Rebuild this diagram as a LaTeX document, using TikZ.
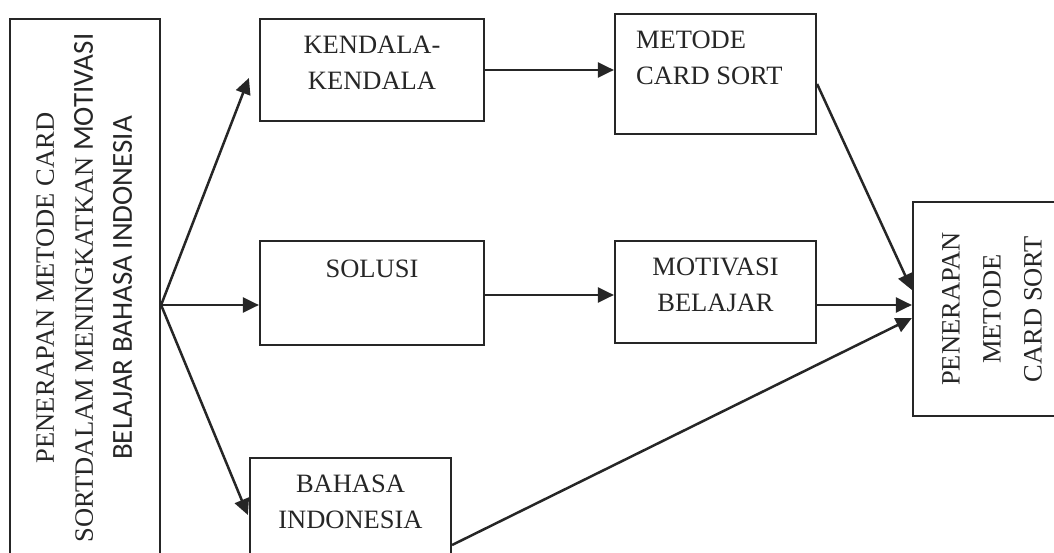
\documentclass[tikz,border=0pt]{standalone}
\usepackage{fontspec}
\setmainfont{Liberation Serif}
\newfontfamily\sansfont{Carlito}
\usetikzlibrary{positioning,arrows.meta}
\definecolor{ink}{HTML}{262626}
\newcommand{\sanscap}{\sansfont\fontsize{29}{39}\selectfont}
\tikzset{
  box/.style={draw=ink, line width=2.2pt, inner sep=0pt, text=ink},
  txt/.style={inner sep=0pt, align=center, text=ink, font=\fontsize{26.5}{36}\selectfont},
  arr/.style={draw=ink, line width=2.5pt, -{Triangle[length=16pt,width=15pt]}}
}
\begin{document}
\begin{tikzpicture}[x=1pt,y=-1pt]
\useasboundingbox (0,0) rectangle (1054,553);
\clip (0,0) rectangle (1054,553);
% kotak judul (kiri)
\node[box, minimum width=150pt, minimum height=538pt] (judul) at (85,288) {\rotatebox{90}{\fontsize{26.5}{39}\selectfont\begin{tabular}{@{}c@{}}PENERAPAN METODE CARD\\ SORTDALAM MENINGKATKAN {\sanscap MOTIVASI}\\ {\sanscap BELAJAR BAHASA INDONESIA}\end{tabular}}};
% kotak tengah
\node[box, minimum width=224pt, minimum height=102pt] (kend) at (372,70) {};
\node[txt, below=17.5pt of kend.north] (kendT) {KENDALA-\\KENDALA};
\node[box, minimum width=201pt, minimum height=120pt] (metode) at (715.5,74) {};
\node[txt, align=left, below right=17.5pt and 22pt of metode.north west] (metodeT) {METODE\\CARD SORT};
\node[box, minimum width=224pt, minimum height=104pt] (solusi) at (372,293) {};
\node[txt, below=19.5pt of solusi.north] (solusiT) {SOLUSI};
\node[box, minimum width=201pt, minimum height=102pt] (motiv) at (715.5,292) {};
\node[txt, below=17.5pt of motiv.north] (motivT) {MOTIVASI\\BELAJAR};
\node[box, minimum width=201pt, minimum height=102pt] (bahasa) at (350.5,509) {};
\node[txt, below=17.5pt of bahasa.north] (bahasaT) {BAHASA\\INDONESIA};
% kotak hasil (kanan)
\node[box, minimum width=159pt, minimum height=214pt] (hasil) at (992.5,309) {\rotatebox{90}{\fontsize{26.5}{41}\selectfont\begin{tabular}{@{}c@{}}PENERAPAN\\ METODE\\ CARD SORT\end{tabular}}};
% panah
\coordinate (pangkal) at ([yshift=-17pt]judul.east);
\draw[arr] (pangkal) -- ([xshift=-10pt,yshift=-8pt]kend.west);
\draw[arr] (pangkal) -- (pangkal -| solusi.west);
\draw[arr] (pangkal) -- ([xshift=-1pt,yshift=-6pt]bahasa.west);
\draw[arr] (kend.east) -- (kend.east -| metode.west);
\draw[arr] ([yshift=-2pt]solusi.east) -- ([yshift=-2pt]solusi.east -| motiv.west);
\draw[arr] ([yshift=-10pt]metode.east) -- ([yshift=19pt]hasil.west);
\draw[arr] ([yshift=-13pt]motiv.east) -- ([yshift=-13pt]motiv.east -| hasil.west);
\draw[arr] ([yshift=-36pt]bahasa.east) -- ([yshift=-9pt]hasil.west);
\end{tikzpicture}
\end{document}
